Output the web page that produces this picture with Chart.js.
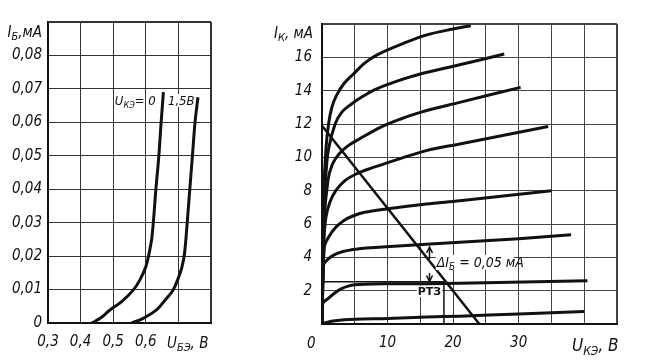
<!DOCTYPE html>
<html>
<head>
<meta charset="utf-8">
<script src="https://cdn.jsdelivr.net/npm/chart.js@4.4.1/dist/chart.umd.min.js"></script>
<style>
  html, body { margin: 0; padding: 0; background: #fff; }
  #wrap { position: relative; width: 648px; height: 362px; overflow: hidden; background: #fff; }
  canvas { position: absolute; top: 0; }
  #inputChart { left: 0; }
  #outputChart { left: 250px; }
</style>
</head>
<body>
<div id="wrap">
  <canvas id="inputChart" width="240" height="362"></canvas>
  <canvas id="outputChart" width="398" height="362"></canvas>
</div>
<script>
// input characteristic: I_b (mA) against U_be (V)
const ubeAt0 = [0.434, 0.46, 0.49, 0.526, 0.562, 0.582, 0.60, 0.61, 0.619, 0.631, 0.640, 0.647, 0.654];
const ibAt0 = [0, 0.0014, 0.0039, 0.0064, 0.0099, 0.0129, 0.0168, 0.0208, 0.0258, 0.040, 0.050, 0.060, 0.069];
const ubeAt15 = [0.557, 0.592, 0.633, 0.662, 0.684, 0.700, 0.711, 0.719, 0.727, 0.735, 0.743, 0.751, 0.76];
const ibAt15 = [0, 0.0014, 0.0039, 0.0072, 0.0099, 0.0135, 0.0168, 0.021, 0.030, 0.040, 0.050, 0.060, 0.0675];
const ibTickLabels = ['0', '0,01', '0,02', '0,03', '0,04', '0,05', '0,06', '0,07', '0,08'];
const ubeTickLabels = ['0,3', '0,4', '0,5', '0,6'];

// output characteristics: I_k (mA) against U_ke (V), base current step 0.05 mA
const uk1 = [0, 0.5, 1, 2, 5, 10, 16, 21, 30, 40];
const ik1 = [0, 0.07, 0.12, 0.2, 0.28, 0.33, 0.42, 0.47, 0.6, 0.75];
const uk2 = [0, 0.1, 1, 2, 3, 4, 5, 6.5, 10, 16, 21, 40.5];
const ik2 = [0, 1.2, 1.55, 1.88, 2.12, 2.27, 2.35, 2.39, 2.41, 2.42, 2.45, 2.6];
const uk3 = [0, 0.2, 1.1, 2, 3.2, 4.5, 5.7, 7.5, 9.8, 15.9, 21, 30, 38];
const ik3 = [0, 3.5, 3.95, 4.18, 4.35, 4.45, 4.52, 4.58, 4.64, 4.78, 4.9, 5.12, 5.35];
const uk4 = [0, 0.35, 1, 2.1, 3.3, 4.7, 6.5, 9.8, 15.9, 21, 35];
const ik4 = [0, 4.6, 5.2, 5.8, 6.2, 6.48, 6.7, 6.9, 7.2, 7.4, 8.0];
const uk5 = [0, 0.3, 0.6, 1.2, 2.1, 3.5, 5.2, 7.5, 9.8, 15.9, 21, 34.5];
const ik5 = [0, 5.0, 6.4, 7.3, 8.0, 8.6, 9.0, 9.35, 9.65, 10.4, 10.8, 11.85];
const uk6 = [0, 0.3, 0.9, 1.6, 2.6, 4, 5.7, 8.9, 12, 15, 21, 30.3];
const ik6 = [0, 6.0, 8.6, 9.6, 10.2, 10.7, 11.1, 11.8, 12.3, 12.7, 13.3, 14.2];
const uk7 = [0, 0.3, 0.6, 1, 2, 3, 4.5, 6, 8, 10.9, 15, 21, 27.8];
const ik7 = [0, 7.0, 9.0, 10.5, 12.0, 12.7, 13.2, 13.6, 14.05, 14.5, 15.0, 15.55, 16.2];
const uk8 = [0, 0.3, 0.6, 1, 1.5, 2.2, 3.3, 4.8, 6.5, 8.4, 12.5, 16, 20, 22.7];
const ik8 = [0, 8.0, 10.5, 12.0, 13.0, 13.7, 14.4, 15.0, 15.65, 16.15, 16.85, 17.35, 17.7, 17.9];
const loadU = [0, 24];
const loadI = [11.9, 0];
const rtzU = 18.6;
const rtzI = 2.53;
const ikTickLabels = ['2', '4', '6', '8', '10', '12', '14', '16'];
const ukeTickLabels = [10, 20, 30];

const FONT = "'Liberation Sans Narrow', 'DejaVu Sans Condensed', 'Liberation Sans', sans-serif";
const INK = '#111';

const toPts = (xs, ys) => xs.map((x, i) => ({ x: x, y: ys[i] }));

const curve = (xs, ys, w) => ({
  data: toPts(xs, ys),
  borderColor: INK,
  borderWidth: w,
  pointRadius: 0,
  fill: false,
  tension: 0.35
});

// text with subscripts, parts = [[text, isSub], ...]
function drawParts(ctx, parts, x, y, size, align) {
  ctx.save();
  ctx.fillStyle = INK;
  ctx.textBaseline = 'alphabetic';
  const big = 'italic ' + size + 'px ' + FONT;
  const small = 'italic ' + Math.round(size * 0.72) + 'px ' + FONT;
  let w = 0;
  parts.forEach(p => { ctx.font = p[1] ? small : big; w += ctx.measureText(p[0]).width; });
  let cx = align === 'right' ? x - w : x;
  parts.forEach(p => {
    ctx.font = p[1] ? small : big;
    ctx.fillText(p[0], cx, p[1] ? y + size * 0.22 : y);
    cx += ctx.measureText(p[0]).width;
  });
  ctx.restore();
  return w;
}

function arrow(ctx, x, y0, y1) {
  const dir = y1 < y0 ? -1 : 1;
  ctx.beginPath();
  ctx.moveTo(x, y0);
  ctx.lineTo(x, y1);
  ctx.moveTo(x - 3, y1 - dir * 6);
  ctx.lineTo(x, y1);
  ctx.lineTo(x + 3, y1 - dir * 6);
  ctx.stroke();
}

const gridWidth = last => c => (c.index === last ? 2 : 1);

const inputLabels = {
  id: 'inputLabels',
  afterDraw(chart) {
    const { ctx, scales: { x, y } } = chart;
    drawParts(ctx, [['I', false], ['Б', true], [',мА', false]], 42, 37, 15, 'right');
    drawParts(ctx, [['U', false], ['КЭ', true], ['= 0', false]], x.getPixelForValue(0.505), y.getPixelForValue(0.0652), 13);
    const lx = x.getPixelForValue(0.668), ly = y.getPixelForValue(0.0652);
    ctx.save();
    ctx.fillStyle = '#fff';
    ctx.fillRect(lx - 1, ly - 11, 24, 13);
    ctx.restore();
    drawParts(ctx, [['1,5В', false]], lx, ly, 13);
    drawParts(ctx, [['U', false], ['БЭ', true], [', В', false]], 167, 348, 15);
  }
};

const outputLabels = {
  id: 'outputLabels',
  afterDraw(chart) {
    const { ctx, scales: { x, y } } = chart;
    drawParts(ctx, [['I', false], ['К', true], [', мА', false]], 63, 38, 15, 'right');
    drawParts(ctx, [['0', false]], 57, 348, 15);
    drawParts(ctx, [['U', false], ['КЭ', true], [', В', false]], 322, 351, 17);

    // delta I_b note
    const tx = x.getPixelForValue(17.5), ty = y.getPixelForValue(3.42);
    ctx.save();
    ctx.fillStyle = '#fff';
    ctx.fillRect(tx - 1, ty - 12, 78, 15);
    ctx.restore();
    drawParts(ctx, [['ΔI', false], ['Б', true], [' = 0,05 мА', false]], tx, ty, 14);

    ctx.save();
    ctx.strokeStyle = INK;
    ctx.lineWidth = 1.5;
    const ax = x.getPixelForValue(16.4);
    arrow(ctx, ax, y.getPixelForValue(3.9), y.getPixelForValue(4.62));
    arrow(ctx, ax, y.getPixelForValue(3.06), y.getPixelForValue(2.55));
    ctx.restore();

    // operating point label
    const px = x.getPixelForValue(14.6), py = y.getPixelForValue(1.74);
    ctx.save();
    ctx.font = 'bold 11px ' + "'DejaVu Sans', sans-serif";
    const w = ctx.measureText('РТЗ').width;
    ctx.fillStyle = '#fff';
    ctx.fillRect(px - 1, py - 9, w + 2, 11);
    ctx.fillStyle = INK;
    ctx.fillText('РТЗ', px, py);
    ctx.restore();
  }
};

const tickFont = { family: FONT, size: 15, style: 'italic' };

new Chart(document.getElementById('inputChart'), {
  type: 'line',
  data: {
    datasets: [curve(ubeAt0, ibAt0, 3), curve(ubeAt15, ibAt15, 3)]
  },
  options: {
    responsive: false,
    animation: false,
    layout: { padding: { top: 22, right: 29, left: 0, bottom: 0 } },
    plugins: { legend: { display: false }, tooltip: { enabled: false } },
    scales: {
      x: {
        type: 'linear',
        min: 0.3,
        max: 0.8,
        afterFit: s => { s.height = 39; },
        ticks: {
          stepSize: 0.1,
          color: INK,
          font: tickFont,
          padding: 10,
          maxRotation: 0,
          callback: (v, i) => ubeTickLabels[i] || ''
        },
        grid: { color: '#333', lineWidth: gridWidth(5), drawTicks: false },
        border: { color: INK, width: 2 }
      },
      y: {
        min: 0,
        max: 0.09,
        afterFit: s => { s.width = 48; },
        ticks: {
          stepSize: 0.01,
          color: INK,
          font: tickFont,
          padding: 6,
          callback: (v, i) => ibTickLabels[i] || ''
        },
        grid: { color: '#333', lineWidth: gridWidth(9), drawTicks: false },
        border: { color: INK, width: 2 }
      }
    }
  },
  plugins: [inputLabels]
});

new Chart(document.getElementById('outputChart'), {
  type: 'line',
  data: {
    datasets: [
      curve(uk1, ik1, 3), curve(uk2, ik2, 3), curve(uk3, ik3, 3), curve(uk4, ik4, 3),
      curve(uk5, ik5, 3), curve(uk6, ik6, 3), curve(uk7, ik7, 3), curve(uk8, ik8, 3),
      curve(loadU, loadI, 2.5),
      {
        data: [{ x: 0, y: rtzI }, { x: rtzU, y: rtzI }, { x: rtzU, y: 0 }],
        borderColor: INK,
        borderWidth: 1.5,
        pointRadius: 0,
        fill: false,
        tension: 0
      }
    ]
  },
  options: {
    responsive: false,
    animation: false,
    layout: { padding: { top: 24, right: 31, left: 0, bottom: 0 } },
    plugins: { legend: { display: false }, tooltip: { enabled: false } },
    scales: {
      x: {
        type: 'linear',
        min: 0,
        max: 45,
        afterFit: s => { s.height = 38; },
        ticks: {
          stepSize: 5,
          color: INK,
          font: tickFont,
          padding: 10,
          maxRotation: 0,
          autoSkip: false,
          callback: v => (ukeTickLabels.includes(v) ? String(v) : '')
        },
        grid: { color: '#444', lineWidth: gridWidth(9), drawTicks: false },
        border: { color: INK, width: 2 }
      },
      y: {
        min: 0,
        max: 18,
        afterFit: s => { s.width = 72; },
        ticks: {
          stepSize: 2,
          color: INK,
          font: tickFont,
          padding: 10,
          autoSkip: false,
          callback: (v, i) => (i > 0 ? ikTickLabels[i - 1] || '' : '')
        },
        grid: { color: '#444', lineWidth: gridWidth(9), drawTicks: false },
        border: { color: INK, width: 2 }
      }
    }
  },
  plugins: [outputLabels]
});
</script>
</body>
</html>
